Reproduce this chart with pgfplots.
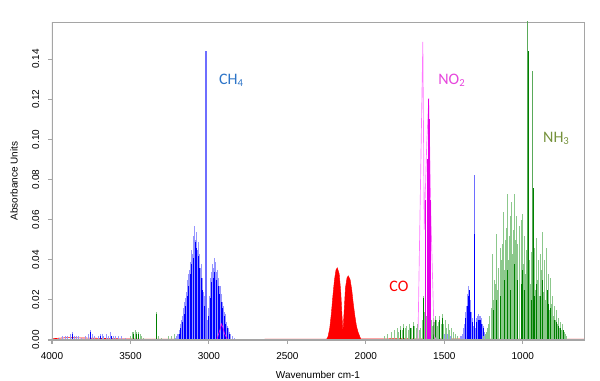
\documentclass[border=0pt]{standalone}
\usepackage{fontspec}
\setmainfont{Liberation Sans}
\newfontfamily\calib{Carlito}
\usepackage{pgfplots}
\pgfplotsset{compat=1.18}
\definecolor{lblue}{RGB}{150,150,255}
\definecolor{mblue}{RGB}{110,110,255}
\definecolor{dblue}{RGB}{0,0,255}
\definecolor{lgreen}{RGB}{140,200,140}
\definecolor{mgreen}{RGB}{90,170,90}
\definecolor{dgreen}{RGB}{0,128,0}
\definecolor{pinkl}{RGB}{255,120,255}
\definecolor{magd}{RGB}{230,0,230}
\definecolor{chlab}{RGB}{46,117,200}
\definecolor{nolab}{RGB}{230,70,220}
\definecolor{nhlab}{RGB}{118,146,60}
\definecolor{framegray}{RGB}{165,165,165}
\begin{document}
\begin{tikzpicture}
\useasboundingbox (-39pt,-30.75pt) rectangle (411pt,255pt);
\begin{axis}[at={(0,0)}, anchor=south west, scale only axis,
  width=399pt, height=238.5pt,
  x dir=reverse, xmin=610, xmax=4000, ymin=0, ymax=0.1585,
  xtick={1000,1500,2000,2500,3000,3500,4000},
  ytick={0,0.02,0.04,0.06,0.08,0.10,0.12,0.14},
  scaled y ticks=false,
  tick pos=left, tick align=outside, major tick length=3pt,
  axis line style={framegray, line width=0.5pt},
  tick style={framegray, line width=0.8pt},
  /pgf/number format/assume math mode=true,
  tick label style={font=\fontsize{7.5}{9}\selectfont, black},
  xticklabel style={/pgf/number format/1000 sep=},
  xticklabel shift=3pt, yticklabel shift=3pt,
  yticklabel style={rotate=90, anchor=south, /pgf/number format/.cd, fixed, fixed zerofill, precision=2},
  label style={font=\fontsize{7.5}{9}\selectfont},
  xlabel={Wavenumber cm-1}, ylabel={Absorbance Units},
  xlabel style={yshift=-2pt}, ylabel style={yshift=4pt},
]
% baseline
\addplot[red, line width=0.5pt] coordinates {(4000,0.0006) (3900,0.0012) (3800,0.0010) (3700,0.0008) (3600,0.0006) (3400,0.0004) (3200,0.0004) (2800,0.0003) (2300,0.0004) (1800,0.0006) (1400,0.0005) (1000,0.0004) (610,0.0004)};
% CH4 light
\addplot[ycomb, lblue, line width=0.55pt] coordinates {
(3950,0.001) (3935,0.002) (3915,0.002) (3900,0.002) (3885,0.003) (3872,0.004) (3860,0.002) (3845,0.002) (3830,0.002) (3810,0.001) (3790,0.002) (3770,0.003) (3755,0.005) (3745,0.003) (3730,0.002) (3705,0.002) (3690,0.003) (3680,0.003) (3670,0.002) (3655,0.003) (3640,0.002) (3625,0.004) (3610,0.002) (3595,0.002) (3575,0.002) (3555,0.002) (3530,0.001)
(3215,0.001) (3205,0.002) (3200,0.003) (3195,0.003) (3190,0.005) (3185,0.006) (3180,0.008) (3175,0.010) (3170,0.012) (3165,0.014) (3160,0.016) (3155,0.019) (3150,0.021) (3145,0.024) (3140,0.026) (3135,0.030) (3130,0.033) (3125,0.035) (3120,0.039) (3115,0.037) (3110,0.045) (3105,0.043) (3100,0.052) (3095,0.048) (3090,0.057) (3085,0.050) (3080,0.054) (3075,0.045) (3070,0.049) (3065,0.040) (3060,0.043) (3055,0.036) (3050,0.038) (3045,0.030) (3040,0.031) (3035,0.024) (3030,0.022) (3025,0.015)
(3015,0.030)
(3008,0.010) (3003,0.016) (2998,0.022) (2993,0.026) (2988,0.031) (2983,0.034) (2978,0.038) (2973,0.036) (2968,0.041) (2963,0.038) (2958,0.039) (2953,0.034) (2948,0.035) (2943,0.031) (2938,0.031) (2933,0.027) (2928,0.027) (2923,0.023) (2918,0.022) (2913,0.019) (2908,0.017) (2903,0.014) (2898,0.013) (2893,0.010) (2888,0.009) (2883,0.007) (2878,0.006) (2870,0.004) (2862,0.003) (2852,0.002) (2840,0.001)
(1800,0.001) (1780,0.002) (1760,0.003) (1740,0.002) (1720,0.004) (1700,0.003) (1680,0.004) (1660,0.003) (1640,0.004) (1620,0.003) (1600,0.004) (1580,0.003) (1560,0.005) (1540,0.004) (1520,0.004) (1500,0.003) (1480,0.003) (1460,0.002) (1440,0.002) (1420,0.002) (1400,0.002)
(1390,0.002) (1385,0.003) (1380,0.004) (1376,0.006) (1372,0.008) (1368,0.011) (1364,0.014) (1360,0.017) (1356,0.020) (1352,0.023) (1348,0.025) (1344,0.027) (1340,0.024) (1336,0.020) (1332,0.017) (1328,0.014) (1324,0.011) (1320,0.008) (1316,0.007) (1312,0.006) (1302,0.006) (1298,0.009) (1294,0.011) (1290,0.012) (1286,0.011) (1282,0.013) (1278,0.012) (1274,0.010) (1270,0.012) (1266,0.011) (1262,0.009) (1258,0.008) (1254,0.007) (1250,0.006) (1245,0.004) (1240,0.003) (1232,0.002) (1222,0.002) (1210,0.001)
};
% CH4 tall single lines
\addplot[ycomb, mblue, line width=0.9pt] coordinates {(3019,0.144) (1307,0.082)};
% CH4 dark
\addplot[ycomb, dblue, line width=0.45pt] coordinates {
(3872,0.003) (3755,0.004) (3690,0.002) (3625,0.002)
(3190,0.003) (3180,0.006) (3170,0.009) (3160,0.013) (3150,0.017) (3140,0.022) (3130,0.027) (3120,0.033) (3110,0.038) (3100,0.041) (3090,0.049) (3080,0.046) (3070,0.042) (3060,0.036) (3050,0.031) (3040,0.025) (3030,0.017)
(3003,0.012) (2993,0.021) (2983,0.029) (2973,0.031) (2963,0.034) (2953,0.030) (2943,0.027) (2933,0.023) (2923,0.019) (2913,0.016) (2903,0.012) (2893,0.008) (2883,0.006) (2870,0.003)
(1364,0.011) (1356,0.017) (1348,0.022) (1344,0.025) (1340,0.021) (1332,0.014) (1324,0.009) (1307,0.053) (1294,0.009) (1286,0.010) (1278,0.010) (1270,0.010) (1262,0.008) (1254,0.006)
};
% NO2 small band
\addplot[magd, line width=0.5pt] coordinates {(2950,0) (2930,0.005) (2920,0.008) (2910,0.006) (2900,0.003) (2880,0)};
% CO
\addplot[fill=red, draw=red, line width=0.3pt] coordinates {
(2255,0) (2245,0.001) (2240,0.002) (2230,0.006) (2220,0.013) (2210,0.022) (2200,0.030) (2190,0.035) (2182,0.036) (2170,0.033) (2160,0.024) (2152,0.012) (2146,0.004) (2140,0.012) (2130,0.026) (2120,0.031) (2112,0.032) (2100,0.030) (2090,0.025) (2080,0.018) (2070,0.012) (2060,0.007) (2050,0.004) (2040,0.002) (2030,0)
} \closedcycle;
% NH3 light
\addplot[ycomb, lgreen, line width=0.55pt] coordinates {
(3500,0.002) (3490,0.004) (3480,0.004) (3470,0.005) (3460,0.004) (3450,0.004) (3440,0.003) (3430,0.002) (3415,0.001) (3338,0.014) (3325,0.002) (3300,0.001) (3260,0.002) (3240,0.002) (3220,0.003)
(1880,0.002) (1860,0.003) (1840,0.004) (1820,0.005) (1800,0.006) (1790,0.004) (1780,0.007) (1770,0.005) (1760,0.008) (1750,0.006) (1740,0.007) (1730,0.005) (1720,0.008) (1710,0.006) (1700,0.009) (1690,0.007) (1680,0.006) (1670,0.008) (1660,0.005) (1650,0.006) (1640,0.010) (1631,0.022) (1625,0.014) (1620,0.011) (1615,0.012) (1610,0.009) (1605,0.011) (1600,0.008) (1595,0.010) (1590,0.012) (1585,0.008) (1580,0.010) (1575,0.007) (1570,0.011) (1565,0.009) (1560,0.012) (1555,0.008) (1550,0.010) (1545,0.007) (1540,0.009) (1530,0.012) (1520,0.008) (1515,0.013) (1505,0.008) (1495,0.010) (1485,0.006) (1475,0.008) (1465,0.005) (1455,0.006) (1445,0.004) (1430,0.003) (1415,0.002)
(1250,0.002) (1240,0.003) (1232,0.004) (1225,0.006) (1218,0.008) (1210,0.012) (1203,0.016) (1197,0.024) (1191,0.043) (1185,0.020) (1178,0.030) (1172,0.028) (1166,0.053) (1160,0.025) (1153,0.036) (1146,0.046) (1140,0.030) (1134,0.040) (1127,0.048) (1121,0.064) (1115,0.035) (1109,0.050) (1102,0.056) (1096,0.073) (1090,0.040) (1084,0.052) (1077,0.062) (1070,0.069) (1064,0.043) (1057,0.055) (1051,0.073) (1045,0.050) (1038,0.062) (1032,0.048) (1025,0.057) (1019,0.046) (1012,0.060) (1006,0.040) (1000,0.063) (994,0.038) (988,0.052) (981,0.033) (975,0.045) (962,0.030) (956,0.040) (949,0.028) (943,0.044) (930,0.030) (924,0.046) (918,0.025) (911,0.051) (905,0.030) (899,0.040) (892,0.022) (886,0.043) (880,0.035) (873,0.054) (867,0.024) (861,0.040) (854,0.020) (847,0.046) (841,0.022) (835,0.033) (828,0.015) (822,0.031) (816,0.018) (809,0.022) (803,0.012) (797,0.017) (790,0.010) (784,0.015) (778,0.008) (772,0.011) (765,0.006) (758,0.009) (752,0.005) (745,0.008) (738,0.004) (730,0.003) (720,0.002)
};
% NH3 tall lines
\addplot[ycomb, mgreen, line width=0.8pt] coordinates {(968,0.200) (936,0.134)};
% NH3 dark
\addplot[ycomb, dgreen, line width=0.45pt] coordinates {
(3480,0.003) (3460,0.003) (3450,0.003) (3338,0.013)
(1780,0.005) (1760,0.006) (1720,0.006) (1700,0.007) (1631,0.021) (1620,0.010) (1600,0.007) (1590,0.010) (1570,0.009) (1560,0.010) (1530,0.010) (1515,0.011)
(1191,0.015) (1166,0.020) (1146,0.022) (1121,0.030) (1096,0.035) (1077,0.025) (1051,0.038) (1038,0.030) (1012,0.028) (1000,0.035) (988,0.025) (968,0.144) (943,0.020) (936,0.076) (924,0.022) (911,0.028) (886,0.022) (873,0.030) (847,0.025) (835,0.018) (822,0.016) (797,0.010) (784,0.009) (772,0.007) (758,0.006) (745,0.005)
};
% NO2
\addplot[pinkl, line width=0.5pt] coordinates {(1668,0) (1637,0.1486) (1628,0.055) (1612,0.098) (1599,0.1205) (1585,0.06) (1565,0.002) (1550,0)};
\addplot[ycomb, magd, line width=0.35pt] coordinates {(1622,0.070) (1612,0.090) (1604,0.105) (1600,0.120) (1596,0.110) (1590,0.070)};
% labels
\node[anchor=west, text=chlab, font=\calib\fontsize{12}{14}\selectfont] at (axis cs:2965,0.1295) {CH\textsubscript{4}};
\node[anchor=west, text=nolab, font=\calib\fontsize{12}{14}\selectfont] at (axis cs:1568,0.1295) {NO\textsubscript{2}};
\node[anchor=west, text=nhlab, font=\calib\fontsize{12}{14}\selectfont] at (axis cs:900,0.1006) {NH\textsubscript{3}};
\node[anchor=west, text=red, font=\calib\fontsize{12}{14}\selectfont] at (axis cs:1880,0.0269) {CO};
\draw[framegray, line width=1.4pt] (rel axis cs:0,1) -- (rel axis cs:0,0) -- (rel axis cs:1,0);
\end{axis}
\end{tikzpicture}
\end{document}
